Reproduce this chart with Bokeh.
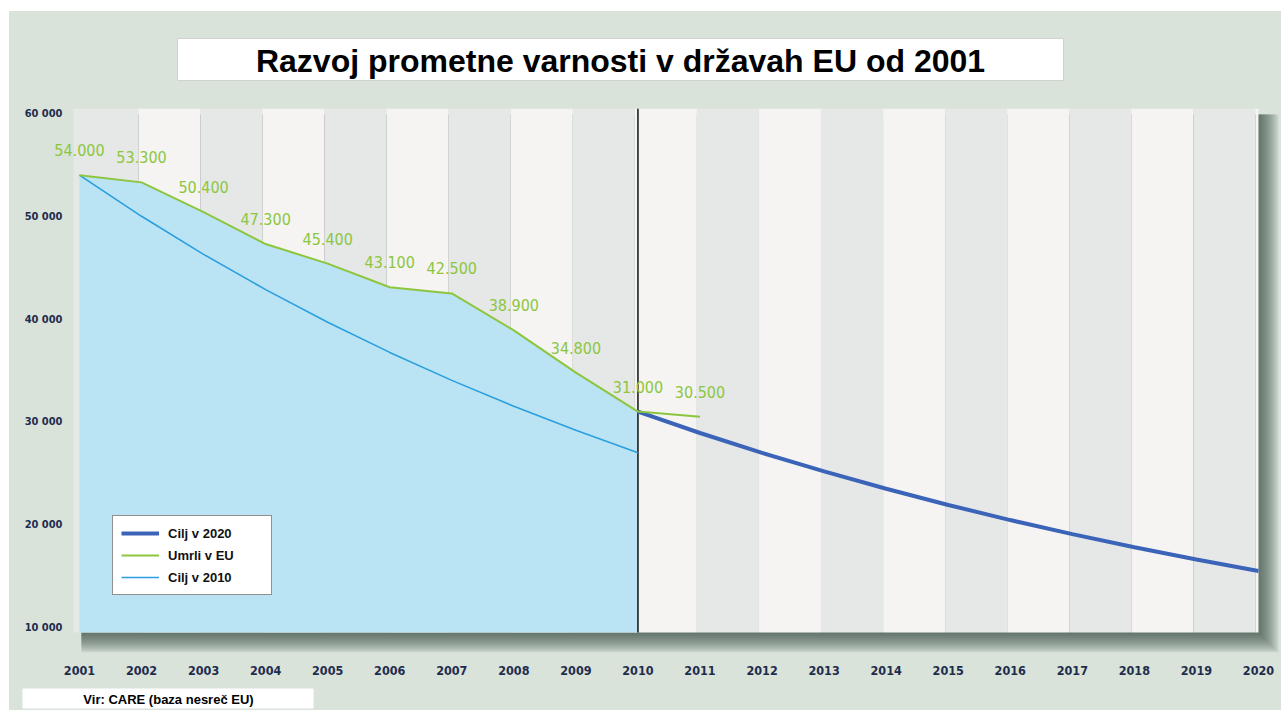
from bokeh.plotting import figure
from bokeh.layouts import column, row
from bokeh.models import (Range1d, FixedTicker, Legend, LegendItem, LabelSet,
                          ColumnDataSource, Spacer)
from bokeh.core.properties import value
from bokeh.embed import file_html
from bokeh.resources import INLINE

# ---------------- data ----------------
title_text = "Razvoj prometne varnosti v državah EU od 2001"
source_text = "Vir: CARE (baza nesreč EU)"

years = list(range(2001, 2021))

death_years = list(range(2001, 2012))
deaths = [54000, 53300, 50400, 47300, 45400, 43100, 42500, 38900, 34800, 31000, 30500]

target2010_years = list(range(2001, 2011))
target2010 = [54000, 50000, 46300, 42870, 39700, 36760, 34040, 31520, 29180, 27000]

target2020_years = list(range(2010, 2021))
target2020 = [31000, 28920, 26990, 25180, 23500, 21920, 20450, 19080, 17800, 16610, 15500]

y_ticks = [10000, 20000, 30000, 40000, 50000, 60000]
y_tick_labels = ["10 000", "20 000", "30 000", "40 000", "50 000", "60 000"]

legend_labels = ["Cilj v 2020", "Umrli v EU", "Cilj v 2010"]

# ---------------- style ----------------
PANEL = "#d9e3da"
STRIPE_DARK = "#e6e8e7"
STRIPE_LIGHT = "#f5f4f2"
FILL_BLUE = "#bae3f3"
LINE_BLUE = "#2a9fe0"
DARK_BLUE = "#3b64b9"
GREEN = "#8cc63f"
NAVY = "#1f2d4d"
SHADOW = "#34423c"
COND = "DejaVu Sans Condensed"
W = 1272


def banner(height, box, text, cx, cy, size, border):
    f = figure(width=W, height=height, output_backend="svg", toolbar_location=None,
               x_range=Range1d(0, W), y_range=Range1d(height, 0),
               x_axis_type=None, y_axis_type=None, min_border=0,
               background_fill_color=PANEL, border_fill_color=PANEL,
               outline_line_color=None, frame_align=False)
    f.grid.visible = False
    l, r, t, b = box
    f.quad(left=[l], right=[r], top=[t], bottom=[b], fill_color="white",
           line_color=border, line_width=1)
    f.text(x=[cx], y=[cy], text=[text], text_align="center", text_baseline="middle",
           text_font=value("Liberation Sans"), text_font_style="bold",
           text_font_size=size, text_color="black")
    return f


title_fig = banner(85, (168, 1054, 27, 69), title_text, 611, 49, "32px", "#cfd2cf")
source_fig = banner(28, (13, 304, 6, 26), source_text, 159, 16.5, "13px", None)

# ---------------- main chart ----------------
# frame (visible panel) and the striped card inside it
X0, X1 = 2000.533, 2020.371
Y0, Y1 = 7568, 60486
CARD_L, CARD_R, CARD_B, CARD_T = 2000.903, 2020.0, 9514, 60486
PX_X, PX_Y = 1 / 62.05, 97.28   # data units per screen pixel

p = figure(width=W, height=586, output_backend="svg", toolbar_location=None,
           x_range=Range1d(X0, X1), y_range=Range1d(Y0, Y1),
           min_border_left=41, min_border_right=0, min_border_top=12,
           min_border_bottom=30, border_fill_color=PANEL,
           background_fill_color=PANEL, outline_line_color=None, frame_align=False)
p.grid.visible = False

# soft drop shadow of the card (right and bottom)
n = 10
p.quad(left=[CARD_L + 8 * PX_X] * n,
       right=[CARD_R + 2 * k * PX_X for k in range(1, n + 1)],
       top=[CARD_T - 6 * PX_Y] * n,
       bottom=[CARD_B - 2 * k * PX_Y for k in range(1, n + 1)],
       fill_color=SHADOW, fill_alpha=0.1, line_color=None)

# vertical stripes
edges = [CARD_L] + [y + 0.95 for y in years[:-1]] + [CARD_R]
colors = [STRIPE_DARK if i % 2 == 0 else STRIPE_LIGHT for i in range(len(edges) - 1)]
p.quad(left=edges[:-1], right=edges[1:], bottom=CARD_B, top=CARD_T,
       fill_color=colors, line_color=None)

# blue area under deaths until 2010
p.varea(x=death_years[:10], y1=CARD_B, y2=deaths[:10], fill_color=FILL_BLUE)

# 2010 vertical line
p.segment(x0=[2010], y0=[CARD_B], x1=[2010], y1=[CARD_T], line_color="#111111",
          line_width=1.5)

r2010 = p.line(target2010_years, target2010, line_color=LINE_BLUE, line_width=1.6)
r2020 = p.line(target2020_years, target2020, line_color=DARK_BLUE, line_width=4)
rdeaths = p.line(death_years, deaths, line_color=GREEN, line_width=2)

# value labels
lab_src = ColumnDataSource(dict(x=death_years, y=deaths,
                                t=[f"{v:,}".replace(",", ".") for v in deaths]))
p.add_layout(LabelSet(x="x", y="y", text="t", source=lab_src, text_color=GREEN,
                      text_font=value(COND), text_font_size="16px", text_align="center",
                      text_baseline="alphabetic", y_offset=19))

# axes
p.xaxis.ticker = FixedTicker(ticks=years)
p.yaxis.ticker = FixedTicker(ticks=y_ticks)
p.yaxis.major_label_overrides = {t: s for t, s in zip(y_ticks, y_tick_labels)}
for ax in (p.xaxis[0], p.yaxis[0]):
    ax.axis_line_color = None
    ax.major_tick_line_color = None
    ax.minor_tick_line_color = None
    ax.major_label_text_font = COND
    ax.major_label_text_font_style = "bold"
    ax.major_label_text_color = NAVY
p.xaxis.major_label_text_font_size = "12.5px"
p.xaxis.major_label_standoff = 7
p.yaxis.major_label_text_font_size = "11px"
p.yaxis.major_label_standoff = -18

# legend
legend = Legend(items=[LegendItem(label=legend_labels[0], renderers=[r2020]),
                       LegendItem(label=legend_labels[1], renderers=[rdeaths]),
                       LegendItem(label=legend_labels[2], renderers=[r2010])],
                location=(62, 57), background_fill_color="white", background_fill_alpha=1,
                border_line_color="#222222", border_line_width=1,
                label_text_font="Liberation Sans", label_text_font_style="bold",
                label_text_font_size="13px", label_text_color="#111111",
                glyph_width=38, glyph_height=18, label_height=18, label_width=95,
                spacing=4, padding=8, margin=0, label_standoff=9)
p.add_layout(legend)

panel = column(title_fig, p, source_fig, styles={"background-color": PANEL})
layout = row(Spacer(width=9, height=710), column(Spacer(width=W, height=11), panel))

open("out.html", "w").write(file_html(layout, INLINE))
